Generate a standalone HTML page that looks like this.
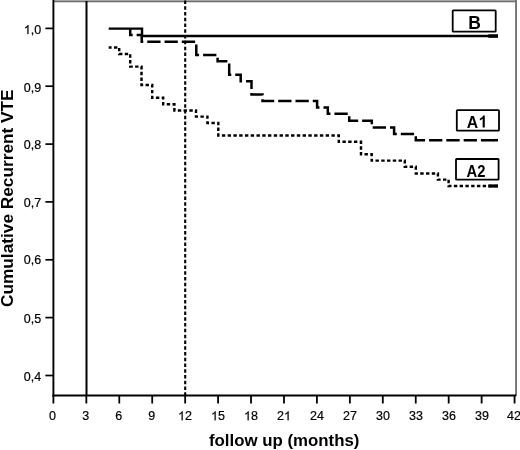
<!DOCTYPE html>
<html><head><meta charset="utf-8">
<style>
html,body{margin:0;padding:0;background:#fff;}
body{width:520px;height:450px;overflow:hidden;position:relative;}
svg{position:absolute;left:0;top:0;will-change:transform;}
text{font-family:"Liberation Sans",sans-serif;fill:#000;}
.t{font-size:12.5px;stroke:#000;stroke-width:0.2px;}
.b{font-weight:bold;}
.one{fill-opacity:0;stroke-opacity:0;}
</style></head><body>
<svg width="520" height="450" viewBox="0 0 520 450">
<!-- frame -->
<rect x="53" y="0" width="464" height="1" fill="#a6a6a6"/>
<rect x="53" y="1" width="464" height="1" fill="#707070"/>
<rect x="53" y="2" width="464" height="0.6" fill="#bbb"/>
<rect x="515.1" y="0" width="1.9" height="396" fill="#737373"/>
<!-- axes -->
<line x1="53.4" y1="0" x2="53.4" y2="396.6" stroke="#000" stroke-width="1.9"/>
<line x1="52.5" y1="395.6" x2="516" y2="395.6" stroke="#000" stroke-width="2"/>
<!-- y ticks -->
<g stroke="#000" stroke-width="1.7">
<line x1="45.4" y1="28.4" x2="53" y2="28.4"/>
<line x1="45.4" y1="86.2" x2="53" y2="86.2"/>
<line x1="45.4" y1="144.1" x2="53" y2="144.1"/>
<line x1="45.4" y1="201.9" x2="53" y2="201.9"/>
<line x1="45.4" y1="259.8" x2="53" y2="259.8"/>
<line x1="45.4" y1="317.6" x2="53" y2="317.6"/>
<line x1="45.4" y1="375.5" x2="53" y2="375.5"/>
</g>
<!-- x ticks -->
<g stroke="#000" stroke-width="1.8">
<line x1="53.40" y1="395" x2="53.40" y2="403.5"/>
<line x1="86.34" y1="395" x2="86.34" y2="403.5"/>
<line x1="119.28" y1="395" x2="119.28" y2="403.5"/>
<line x1="152.22" y1="395" x2="152.22" y2="403.5"/>
<line x1="185.16" y1="395" x2="185.16" y2="403.5"/>
<line x1="218.10" y1="395" x2="218.10" y2="403.5"/>
<line x1="251.04" y1="395" x2="251.04" y2="403.5"/>
<line x1="283.98" y1="395" x2="283.98" y2="403.5"/>
<line x1="316.92" y1="395" x2="316.92" y2="403.5"/>
<line x1="349.86" y1="395" x2="349.86" y2="403.5"/>
<line x1="382.80" y1="395" x2="382.80" y2="403.5"/>
<line x1="415.74" y1="395" x2="415.74" y2="403.5"/>
<line x1="448.68" y1="395" x2="448.68" y2="403.5"/>
<line x1="481.62" y1="395" x2="481.62" y2="403.5"/>
<line x1="514.56" y1="395" x2="514.56" y2="403.5"/>
</g>
<!-- y labels -->
<g class="t" text-anchor="end">
<text x="41.2" y="34.1"><tspan class="one">1</tspan>,0</text>
<text x="41.2" y="91.5">0,9</text>
<text x="41.2" y="149.4">0,8</text>
<text x="41.2" y="207">0,7</text>
<text x="41.2" y="264.4">0,6</text>
<text x="41.2" y="323.2">0,5</text>
<text x="41.2" y="380.8">0,4</text>
</g>
<!-- x labels -->
<g class="t" text-anchor="middle">
<text x="52.6" y="420.3">0</text>
<text x="85.8" y="420.3">3</text>
<text x="118.8" y="420.3">6</text>
<text x="151.8" y="420.3">9</text>
<text x="185" y="420.3"><tspan class="one">1</tspan>2</text>
<text x="218" y="420.3"><tspan class="one">1</tspan>5</text>
<text x="251" y="420.3"><tspan class="one">1</tspan>8</text>
<text x="284" y="420.3">2<tspan class="one">1</tspan></text>
<text x="317" y="420.3">24</text>
<text x="350" y="420.3">27</text>
<text x="383" y="420.3">30</text>
<text x="416" y="420.3">33</text>
<text x="449" y="420.3">36</text>
<text x="482" y="420.3">39</text>
<text x="514" y="420.3">42</text>
</g>
<!-- axis titles -->
<text class="b" x="284.2" y="446.3" font-size="17" text-anchor="middle" textLength="150.6" lengthAdjust="spacingAndGlyphs">follow up (months)</text>
<text class="b" transform="translate(13,198.2) rotate(-90)" font-size="17.25" text-anchor="middle">Cumulative Recurrent VTE</text>
<!-- reference lines -->
<line x1="86.5" y1="1" x2="86.5" y2="395" stroke="#000" stroke-width="2"/>
<line x1="185.2" y1="0" x2="185.2" y2="395" stroke="#000" stroke-width="2.1" stroke-dasharray="3.5 2.26" stroke-dashoffset="-0.55"/>
<!-- B solid -->
<path d="M108.7 28.6 H142 V36 H498" fill="none" stroke="#000" stroke-width="2.45"/>
<rect x="488.3" y="34.3" width="9.7" height="3.5" fill="#000"/>
<!-- A1 dashed -->
<path d="M130.2 28.6 V35 H141.7 V41.7 H196.3 V55 H217.6 V61.3 H229.2 V74.7 H240.7 V81.2 H251.5 V94.4 H262.5 V100.9 H317.1 V107.5 H327.8 V113.8 H349.2 V120.7 H371.8 V127.4 H394.1 V133.9 H415.8 V140.2 H498" fill="none" stroke="#000" stroke-width="2.5" stroke-dasharray="13.3 3.987" stroke-dashoffset="21.72"/>
<rect x="493.5" y="138.95" width="4.5" height="2.5" fill="#000"/>
<!-- A2 dotted -->
<path d="M108.7 47.4 H119.2 V53.9 H130.2 V66.6 H141.5 V85 H152.2 V97.7 H163.2 V104.2 H174.4 V110.4 H196 V116.6 H207.4 V122.9 H218.3 V135.5 H338.8 V141.8 H361 V154.3 H371.7 V160.6 H404.8 V166.8 H415.8 V173.5 H437.9 V179.6 H448.6 V186 H498" fill="none" stroke="#000" stroke-width="2.45" stroke-dasharray="3.4 2.365" stroke-dashoffset="0.49"/>
<rect x="488.3" y="184.4" width="9.7" height="3.2" fill="#000"/>
<!-- legend boxes -->
<rect x="452.7" y="10.3" width="43" height="21.4" rx="0.6" fill="#fff" stroke="#000" stroke-width="1.8"/>
<text class="b" x="474.6" y="28.7" font-size="17.5" text-anchor="middle">B</text>
<rect x="456.8" y="110.1" width="42.2" height="20.6" rx="0.6" fill="#fff" stroke="#000" stroke-width="1.8"/>
<g transform="translate(476.9 0) scale(0.93 1) translate(-476.9 0)"><text class="b" x="476.9" y="127.6" font-size="17" text-anchor="middle">A<tspan class="one">1</tspan></text>
<path d="M854 0H573V1059Q419 915 210 846V1101Q320 1137 384.5 1187Q449 1237 513.5 1287.5Q578 1338 626 1472H854Z" transform="translate(478.306 127.600) scale(0.008301 -0.008301)"/></g>
<rect x="456" y="159" width="42.6" height="20.7" rx="0.6" fill="#fff" stroke="#000" stroke-width="1.8"/>
<g transform="translate(476 0) scale(0.87 1) translate(-476 0)"><text class="b" x="476" y="176.6" font-size="17" text-anchor="middle">A2</text></g>
<!-- ones -->
<path stroke="#000" stroke-width="33" d="M763 0H583V1147Q518 1085 465 1054Q412 1023 358.5 992Q305 961 222 930V1104Q373 1175 429.5 1225.5Q486 1276 542.5 1326.5Q599 1377 646 1472H763Z" transform="translate(23.809 34.100) scale(0.006104 -0.006104)"/>
<path stroke="#000" stroke-width="33" d="M763 0H583V1147Q518 1085 465 1054Q412 1023 358.5 992Q305 961 222 930V1104Q373 1175 429.5 1225.5Q486 1276 542.5 1326.5Q599 1377 646 1472H763Z" transform="translate(178.047 420.300) scale(0.006104 -0.006104)"/>
<path stroke="#000" stroke-width="33" d="M763 0H583V1147Q518 1085 465 1054Q412 1023 358.5 992Q305 961 222 930V1104Q373 1175 429.5 1225.5Q486 1276 542.5 1326.5Q599 1377 646 1472H763Z" transform="translate(211.047 420.300) scale(0.006104 -0.006104)"/>
<path stroke="#000" stroke-width="33" d="M763 0H583V1147Q518 1085 465 1054Q412 1023 358.5 992Q305 961 222 930V1104Q373 1175 429.5 1225.5Q486 1276 542.5 1326.5Q599 1377 646 1472H763Z" transform="translate(244.047 420.300) scale(0.006104 -0.006104)"/>
<path stroke="#000" stroke-width="33" d="M763 0H583V1147Q518 1085 465 1054Q412 1023 358.5 992Q305 961 222 930V1104Q373 1175 429.5 1225.5Q486 1276 542.5 1326.5Q599 1377 646 1472H763Z" transform="translate(284.000 420.300) scale(0.006104 -0.006104)"/>
</svg>
</body></html>
